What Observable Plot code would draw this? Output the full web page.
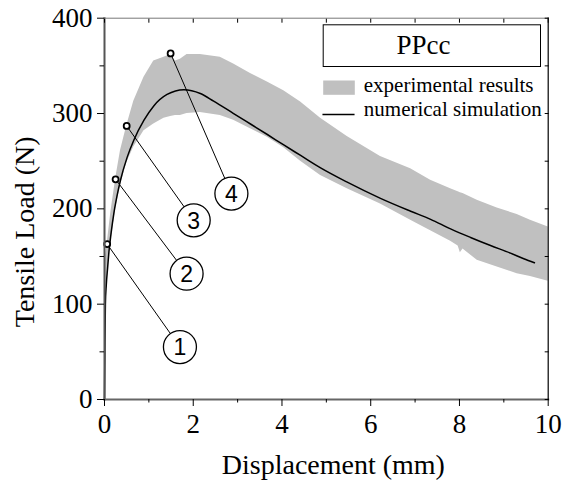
<!DOCTYPE html>
<html>
<head>
<meta charset="utf-8">
<script src="https://cdn.jsdelivr.net/npm/d3@7"></script>
<script src="https://cdn.jsdelivr.net/npm/@observablehq/plot@0.6"></script>
<style>
  html, body { margin: 0; padding: 0; background: #fff; }
  svg { display: block; }
</style>
</head>
<body>
<script>
// Experimental band (grey) — displacement (mm), lower / upper tensile load (N)
const bandX     = [0, 0.01, 0.02, 0.06, 0.14, 0.25, 0.36, 0.50, 0.66, 0.89, 1.11, 1.34, 1.49, 1.60, 1.71, 1.86, 2.16, 2.61, 2.91, 3.29, 3.67, 4.04, 4.42, 4.87, 5.47, 6.22, 6.90, 7.35, 7.80, 7.97, 8.02, 8.08, 8.40, 8.85, 9.30, 9.60, 10];
const bandUpper = [0, 120, 150, 163, 195, 231, 261, 287, 313, 338, 355, 359, 362, 355, 357, 362, 362, 359, 352, 342, 333, 324, 312, 295, 276, 255, 242, 230, 221, 218, 217, 216, 209, 201, 194, 188, 181];
const bandLower = [0, 60, 95, 125, 165, 200, 225, 248, 265, 282, 289, 295, 297, 298, 298, 300, 301, 298, 293, 284, 275, 264, 250, 235, 221, 205, 188, 177, 166, 161, 154, 158, 146, 139, 132, 129, 124];

// Numerical simulation (black line)
const simX = [0, 0.01, 0.02, 0.04, 0.07, 0.10, 0.15, 0.21, 0.28, 0.36, 0.51, 0.66, 0.89, 1.11, 1.41, 1.79, 2.16, 2.46, 2.91, 3.29, 3.67, 4.04, 4.42, 4.87, 5.47, 6.22, 6.90, 7.35, 7.80, 8.25, 8.70, 9.15, 9.45, 9.69];
const simY = [0, 60, 100, 120, 138, 155, 175, 195, 213, 230, 254, 272, 293, 308, 320, 325, 321, 313, 300, 289, 278, 267, 256, 243, 228, 211, 197.5, 189, 179, 170, 161.5, 153.5, 147.6, 143.4];

// Annotated points and their numbered callouts
const markerX = [0.06, 0.25, 0.50, 1.49];
const markerY = [163, 231, 287, 363];
const calloutX = [1.70, 1.85, 2.01, 2.86];
const calloutY = [55, 132, 188, 216];
const calloutText = ["1", "2", "3", "4"];

// Ticks
const xMajor = [0, 2, 4, 6, 8, 10];
const xMinor = [1, 3, 5, 7, 9];
const xAll = d3.range(0, 11);
const yMajor = [0, 100, 200, 300, 400];
const yMinor = [50, 150, 250, 350];
const yAll = d3.range(0, 401, 50);

const xLabel = "Displacement (mm)";
const yLabel = "Tensile Load (N)";
const legendTitle = "PPcc";
const legendExp = "experimental results";
const legendSim = "numerical simulation";

const band = bandX.map((x, i) => ({x, lo: bandLower[i], hi: bandUpper[i]}));
const sim = simX.map((x, i) => ({x, y: simY[i]}));
const callouts = markerX.map((x, i) => ({mx: x, my: markerY[i], cx: calloutX[i], cy: calloutY[i], t: calloutText[i]}));

const serif = "'Liberation Serif', 'Times New Roman', serif";
const sans = "'Liberation Sans', Arial, sans-serif";

const chart = Plot.plot({
  width: 569,
  height: 485,
  marginLeft: 104,
  marginRight: 21.3,
  marginTop: 17.7,
  marginBottom: 86,
  style: {fontFamily: serif, fontSize: "27px", background: "#fff", color: "#000"},
  x: {domain: [0, 10]},
  y: {domain: [0, 400]},
  marks: [
    Plot.areaY(band, {x: "x", y1: "lo", y2: "hi", fill: "#c0c0c0", curve: "linear"}),
    Plot.line(sim, {x: "x", y: "y", stroke: "#000", strokeWidth: 1.5, curve: "monotone-x"}),
    // leader lines
    Plot.link(callouts, {x1: "mx", y1: "my", x2: "cx", y2: "cy", stroke: "#000", strokeWidth: 1}),
    Plot.dot(callouts, {x: "mx", y: "my", r: 3, fill: "#fff", stroke: "#000", strokeWidth: 1.8}),
    Plot.dot(callouts, {x: "cx", y: "cy", r: 16.5, fill: "#fff", stroke: "#000", strokeWidth: 1.3}),
    Plot.text(callouts, {x: "cx", y: "cy", text: "t", fontFamily: sans, fontSize: 23, dy: 1, fill: "#000"}),
    // frame
    Plot.frame({anchor: "left", stroke: "#555", strokeWidth: 2}),
    Plot.frame({anchor: "bottom", stroke: "#666", strokeWidth: 2}),
    Plot.frame({anchor: "top", stroke: "#777", strokeWidth: 1}),
    Plot.frame({anchor: "right", stroke: "#000", strokeWidth: 1.2}),
    // axes
    Plot.axisY({anchor: "left", ticks: yMajor, tickSize: 7, tickPadding: 5, label: null, fontSize: 27, fontFamily: serif}),
    Plot.axisY({anchor: "left", ticks: yMinor, tickSize: 4.5, tickFormat: () => "", label: null}),
    Plot.axisX({anchor: "bottom", ticks: xMajor, tickSize: 7, tickPadding: 7.5, label: null, fontSize: 27, fontFamily: serif}),
    Plot.axisX({anchor: "bottom", ticks: xMinor, tickSize: 3.5, tickFormat: () => "", label: null}),
    Plot.axisX({anchor: "top", ticks: xAll, tickSize: 4, dy: 4, tickFormat: () => "", label: null}),
    Plot.axisY({anchor: "right", ticks: yAll, tickSize: 4, dx: -4, tickFormat: () => "", label: null}),
    // axis titles
    Plot.text([xLabel], {frameAnchor: "bottom", text: d => d, dx: 7, dy: 74, lineAnchor: "bottom", textAnchor: "middle", fontSize: 28, fontFamily: serif}),
    Plot.text([yLabel], {frameAnchor: "left", text: d => d, rotate: -90, dx: -71, dy: 23, lineAnchor: "bottom", textAnchor: "middle", fontSize: 28, fontFamily: serif}),
    // legend
    Plot.frame({stroke: "#000", strokeWidth: 1, fill: "#fff", insetLeft: 218.7, insetRight: 7.7, insetTop: 6.6, insetBottom: 333}),
    Plot.text([legendTitle], {frameAnchor: "top-left", text: d => d, dx: 319, dy: 35.6, lineAnchor: "bottom", textAnchor: "middle", fontSize: 27, fontFamily: serif}),
    Plot.frame({fill: "#c0c0c0", stroke: null, insetLeft: 218.7, insetRight: 193.4, insetTop: 62.3, insetBottom: 304.7}),
    Plot.frame({anchor: "top", stroke: "#000", strokeWidth: 1.5, insetLeft: 218.7, insetRight: 194.4, insetTop: 96.3}),
    Plot.text([legendExp], {frameAnchor: "top-left", text: d => d, dx: 259.3, dy: 74, lineAnchor: "bottom", textAnchor: "start", fontSize: 21, fontFamily: serif}),
    Plot.text([legendSim], {frameAnchor: "top-left", text: d => d, dx: 259.3, dy: 97.3, lineAnchor: "bottom", textAnchor: "start", fontSize: 21, fontFamily: serif})
  ]
});
document.body.appendChild(chart);
</script>
</body>
</html>
